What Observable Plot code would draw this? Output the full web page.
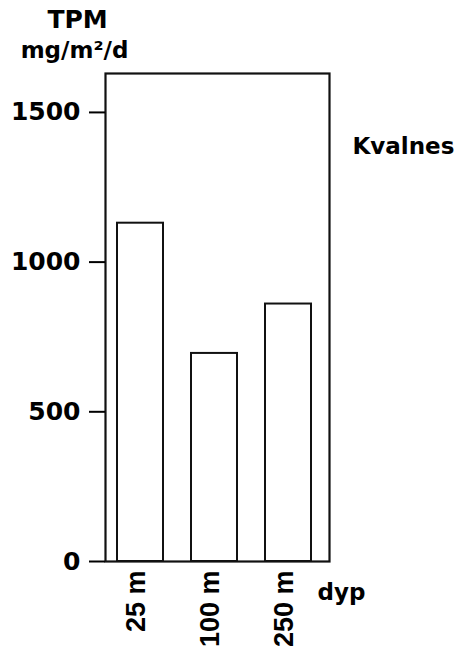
<!DOCTYPE html>
<html>
<head>
<meta charset="utf-8">
<script src="https://cdn.jsdelivr.net/npm/d3@7"></script>
<script src="https://cdn.jsdelivr.net/npm/@observablehq/plot@0.6"></script>
<style>
  html, body { margin: 0; padding: 0; background: #fff; }
  #chart svg { display: block; }
</style>
</head>
<body>
<div id="chart"></div>
<script>
const depths = ["25 m", "100 m", "250 m"];
const tpm = [1130, 695, 860];
const yTicks = [0, 500, 1000, 1500];
const yUnitTitle = "TPM";
const yUnitSub = "mg/m²/d";
const station = "Kvalnes";
const xTitle = "dyp";

const data = depths.map((d, i) => ({depth: d, value: tpm[i]}));
const wide = "'DejaVu Sans', Verdana, sans-serif";
const narrow = "'Liberation Sans', Arial, sans-serif";

const chart = Plot.plot({
  width: 462,
  height: 654,
  marginLeft: 105,
  marginRight: 133,
  marginTop: 73,
  marginBottom: 93,
  style: {fontFamily: wide, background: "#fff", color: "#000"},
  x: {domain: depths, paddingInner: 0.375, paddingOuter: 0.19, align: 0.42, axis: null},
  y: {domain: [0, 1630], axis: null},
  marks: [
    Plot.barY(data, {x: "depth", y: "value", fill: "#fff", stroke: "#111", strokeWidth: 2}),
    Plot.frame({stroke: "#111", strokeWidth: 2.2}),
    Plot.axisY({ticks: yTicks, tickSize: 16, tickPadding: 9, tickFormat: d => String(d),
      fontSize: 25, fontWeight: "bold", fontFamily: wide, strokeWidth: 2, label: null}),
    Plot.axisX({tickSize: 0, tickPadding: 9, tickRotate: -90, dx: -4,
      fontSize: 27, fontWeight: "bold", fontFamily: narrow, label: null}),
    Plot.text([yUnitTitle], {frameAnchor: "top-left", text: d => d, dx: -28, dy: -46,
      textAnchor: "middle", lineAnchor: "bottom", fontSize: 25, fontWeight: "bold", fontFamily: wide}),
    Plot.text([yUnitSub], {frameAnchor: "top-left", text: d => d, dx: -31, dy: -16,
      textAnchor: "middle", lineAnchor: "bottom", fontSize: 23, fontWeight: "bold", fontFamily: wide}),
    Plot.text([station], {frameAnchor: "top-right", text: d => d, dx: 23, dy: 80,
      textAnchor: "start", lineAnchor: "bottom", fontSize: 23, fontWeight: "bold", fontFamily: wide}),
    Plot.text([xTitle], {frameAnchor: "bottom-right", text: d => d, dx: -12, dy: 38,
      textAnchor: "start", lineAnchor: "bottom", fontSize: 23, fontWeight: "bold", fontFamily: wide})
  ]
});
document.getElementById("chart").appendChild(chart);
</script>
</body>
</html>
